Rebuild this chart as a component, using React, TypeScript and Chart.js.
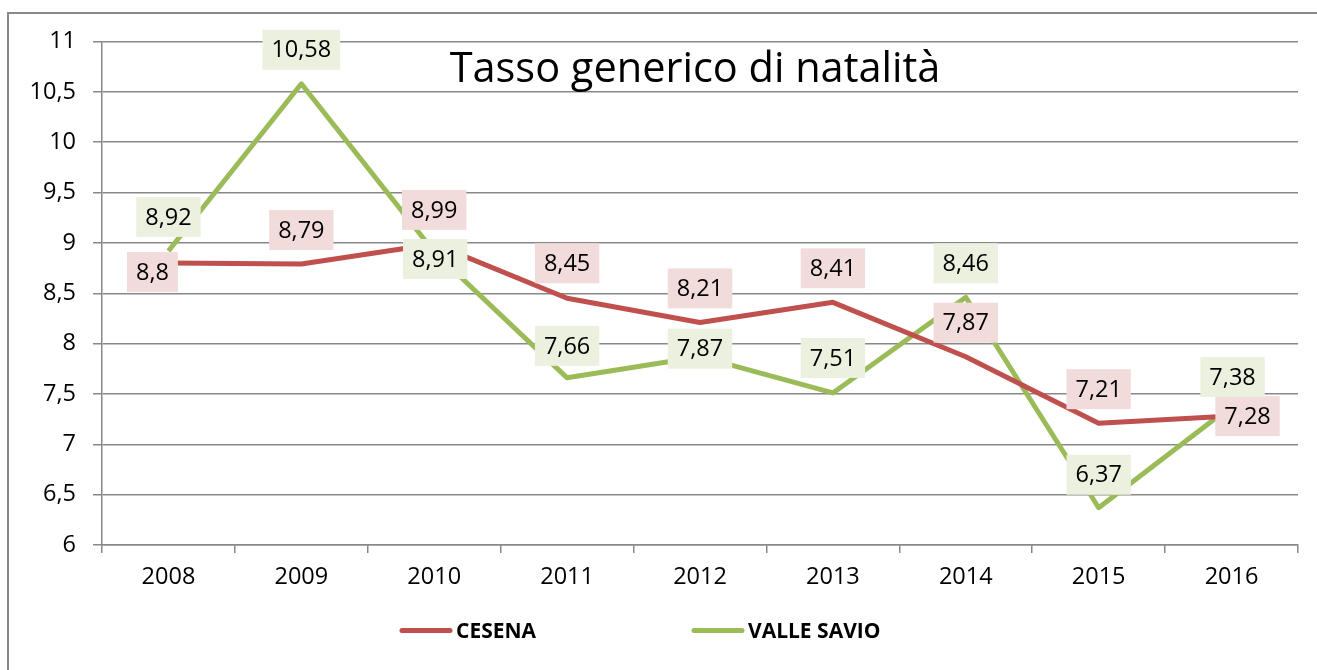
import { useEffect, useRef } from 'react';
import { Chart, registerables } from 'chart.js';

Chart.register(...registerables);

const YEARS = ['2008', '2009', '2010', '2011', '2012', '2013', '2014', '2015', '2016'];
const CESENA = [8.8, 8.79, 8.99, 8.45, 8.21, 8.41, 7.87, 7.21, 7.28];
const VALLE_SAVIO = [8.92, 10.58, 8.91, 7.66, 7.87, 7.51, 8.46, 6.37, 7.38];
const SERIES_NAMES = ['CESENA', 'VALLE SAVIO'];
const TITLE = 'Tasso generico di natalità';
const Y_MIN = 6;
const Y_MAX = 11;
const Y_STEP = 0.5;

// label placement (pixel offsets of label centre from the point), one per point
const CESENA_LABEL_OFFSETS = [[-16, 9], [0, -34], [0, -34], [0, -35], [0, -34], [0, -34], [0, -34], [0, -34], [16, 0]];
const VALLE_LABEL_OFFSETS = [[0, -34], [0, -34], [1, 7], [0, -32], [0, -8], [0, -35], [0, -34], [0, -33], [1, -29]];

const FONT = '"Open Sans", sans-serif';
const RED = '#C0504D';
const GREEN = '#9BBB59';
const RED_BG = '#F2DCDB';
const GREEN_BG = '#EBF1DE';
const GRID = '#888888';

const fmt = (v: number) => String(v).replace('.', ',');

const labelPlugin = {
  id: 'valueLabels',
  afterDatasetsDraw(chart: any) {
    const ctx = chart.ctx;
    const offsets = [CESENA_LABEL_OFFSETS, VALLE_LABEL_OFFSETS];
    const bgs = [RED_BG, GREEN_BG];
    ctx.save();
    ctx.font = `23.5px ${FONT}`;
    ctx.textAlign = 'center';
    ctx.textBaseline = 'middle';
    chart.data.datasets.forEach((ds: any, i: number) => {
      const meta = chart.getDatasetMeta(i);
      meta.data.forEach((pt: any, j: number) => {
        const text = fmt(ds.data[j]);
        const [dx, dy] = offsets[i][j];
        const cx = pt.x + dx;
        const cy = pt.y + dy;
        const w = ctx.measureText(text).width + 18;
        const h = 40;
        ctx.fillStyle = bgs[i];
        ctx.fillRect(cx - w / 2, cy - h / 2, w, h);
        ctx.fillStyle = '#000';
        ctx.fillText(text, cx, cy + 1);
      });
    });
    ctx.restore();
  },
};

const decorPlugin = {
  id: 'decor',
  beforeDraw(chart: any) {
    const ctx = chart.ctx;
    ctx.save();
    ctx.fillStyle = '#fff';
    ctx.fillRect(0, 0, chart.width, chart.height);
    ctx.strokeStyle = GRID;
    ctx.lineWidth = 2;
    ctx.beginPath();
    ctx.moveTo(8, chart.height);
    ctx.lineTo(8, 13);
    ctx.lineTo(chart.width, 13);
    ctx.stroke();
    ctx.restore();
  },
  afterDraw(chart: any) {
    const ctx = chart.ctx;
    const area = chart.chartArea;
    ctx.save();
    // title
    ctx.font = `41.5px ${FONT}`;
    ctx.fillStyle = '#000';
    ctx.textAlign = 'center';
    ctx.textBaseline = 'alphabetic';
    ctx.fillText(TITLE, (area.left + area.right) / 2 - 5, 82);
    // legend
    const colors = [RED, GREEN];
    const starts = [402, 694];
    ctx.font = `bold 21px ${FONT}`;
    ctx.textAlign = 'left';
    SERIES_NAMES.forEach((name, i) => {
      ctx.strokeStyle = colors[i];
      ctx.lineWidth = 5;
      ctx.lineCap = 'round';
      ctx.beginPath();
      ctx.moveTo(starts[i], 630.5);
      ctx.lineTo(starts[i] + 48, 630.5);
      ctx.stroke();
      ctx.fillStyle = '#000';
      ctx.fillText(name, starts[i] + 54, 638);
    });
    ctx.restore();
  },
};

export default function App() {
  const ref = useRef<HTMLCanvasElement>(null);
  useEffect(() => {
    Chart.defaults.font.family = FONT;
    const chart = new Chart(ref.current as HTMLCanvasElement, {
      type: 'line',
      data: {
        labels: YEARS,
        datasets: [
          {
            label: SERIES_NAMES[0],
            data: CESENA,
            borderColor: RED,
            backgroundColor: RED,
            borderWidth: 5,
            pointRadius: 0,
            tension: 0,
            borderJoinStyle: 'round',
          },
          {
            label: SERIES_NAMES[1],
            data: VALLE_SAVIO,
            borderColor: GREEN,
            backgroundColor: GREEN,
            borderWidth: 5,
            pointRadius: 0,
            tension: 0,
            borderJoinStyle: 'round',
          },
        ],
      },
      options: {
        responsive: false,
        animation: false,
        events: [],
        layout: { padding: { top: 41.5, right: 19, left: 0, bottom: 0 } },
        plugins: {
          legend: { display: false },
          title: { display: false },
          tooltip: { enabled: false },
        },
        scales: {
          x: {
            offset: true,
            grid: {
              display: true,
              drawOnChartArea: false,
              drawTicks: true,
              tickLength: 8,
              color: GRID,
              lineWidth: 1.5,
              offset: true,
            },
            border: { display: true, color: GRID, width: 1.5 },
            ticks: {
              color: '#000',
              font: { family: FONT, size: 23.5 },
              padding: 10,
              maxRotation: 0,
              autoSkip: false,
            },
            afterFit: (s: any) => {
              s.height = 125;
            },
          },
          y: {
            min: Y_MIN,
            max: Y_MAX,
            grid: { color: GRID, lineWidth: 1.5, tickLength: 9, drawTicks: true },
            border: { display: true, color: GRID, width: 1.5 },
            ticks: {
              stepSize: Y_STEP,
              color: '#000',
              font: { family: FONT, size: 23.5 },
              padding: 17,
              callback: (v: any) => fmt(Number(v)),
            },
            afterFit: (s: any) => {
              s.width = 102;
            },
          },
        },
      },
      plugins: [labelPlugin, decorPlugin],
    });
    return () => chart.destroy();
  }, []);
  return (
    <div style={{ position: 'fixed', left: 0, top: 0, width: 1317, height: 670, background: '#fff' }}>
      <canvas ref={ref} width={1317} height={670} style={{ display: 'block' }} />
    </div>
  );
}
